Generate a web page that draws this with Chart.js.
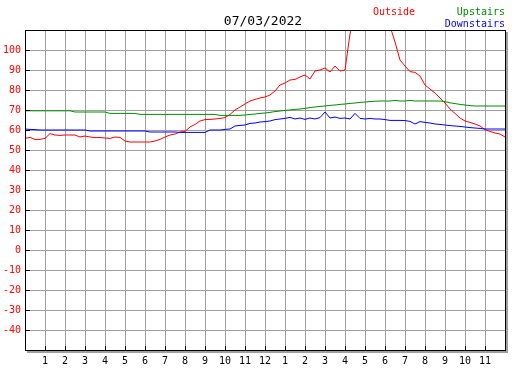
<!DOCTYPE html>
<html>
<head>
<meta charset="utf-8">
<title>07/03/2022</title>
<script src="https://cdn.jsdelivr.net/npm/chart.js@4/dist/chart.umd.min.js"></script>
<style>
  html, body { margin: 0; padding: 0; background: #fff; }
  canvas { display: block; }
</style>
</head>
<body>
<canvas id="grafico" width="527" height="370"></canvas>
<script>
// one reading every 15 minutes, midnight to midnight
const outside = [
  55.8, 56.3, 55.3, 55.3, 55.8, 58.2, 57.5, 57.3,
  57.5, 57.5, 57.5, 56.5, 57, 56.5, 56.2, 56.2,
  56, 55.8, 56.5, 56.3, 54.5, 54, 54, 54,
  54, 54, 54.5, 55.3, 56.5, 57.5, 58, 59,
  59.3, 61.5, 62.8, 64.5, 65.2, 65.3, 65.5, 65.8,
  66.2, 67.8, 70, 71.5, 73, 74.5, 75.3, 76,
  76.5, 77.5, 79.5, 82.5, 83.5, 85, 85.3, 86.5,
  87.5, 85.5, 89.5, 90, 91, 89, 92, 89.5,
  90, 108, 118, 125, 130, 132, 130, 125,
  120, 112, 104, 95, 92, 89.2, 88.8, 87,
  82.5, 80.5, 78.5, 76, 73.5, 70.5, 68.3, 66,
  64.5, 63.8, 63, 62, 60.2, 59.3, 58.5, 58,
  56.5
];
const upstairs = [
  69.6, 69.6, 69.6, 69.6, 69.6, 69.6, 69.6, 69.6,
  69.6, 69.6, 69, 69, 69, 69, 69, 69,
  69, 68.3, 68.3, 68.3, 68.3, 68.3, 68.3, 67.8,
  67.8, 67.8, 67.8, 67.8, 67.8, 67.8, 67.8, 67.8,
  67.8, 67.8, 67.8, 67.8, 67.8, 67.8, 67.8, 67.3,
  67.3, 67.3, 67.3, 67.3, 67.5, 67.8, 68, 68.3,
  68.5, 68.8, 69.2, 69.5, 69.8, 70, 70.3, 70.5,
  70.8, 71.2, 71.5, 71.8, 72, 72.3, 72.5, 72.8,
  73, 73.3, 73.5, 73.8, 74, 74.2, 74.4, 74.5,
  74.5, 74.5, 74.8, 74.5, 74.5, 74.8, 74.5, 74.5,
  74.5, 74.5, 74.5, 74.5, 74.2, 73.6, 73.2, 72.8,
  72.5, 72.2, 72, 72, 72, 72, 72, 72,
  72
];
const downstairs = [
  60.5, 60.3, 60.2, 60, 60, 60, 60, 60,
  60, 60, 60, 60, 60, 59.5, 59.5, 59.5,
  59.5, 59.5, 59.5, 59.5, 59.5, 59.5, 59.5, 59.5,
  59.5, 59, 59, 59, 59, 59, 59, 58.8,
  58.8, 58.8, 58.8, 58.8, 58.8, 60, 60, 60,
  60.3, 60.5, 62, 62.3, 62.5, 63.3, 63.5, 64,
  64.2, 64.5, 65.2, 65.5, 65.8, 66.3, 65.5, 66,
  65.3, 66, 65.5, 66.2, 69, 66, 66.5, 65.8,
  66, 65.5, 68.3, 65.8, 65.5, 65.8, 65.5, 65.5,
  65.2, 64.8, 64.8, 64.8, 64.7, 64.3, 63, 64.2,
  63.8, 63.5, 63, 62.8, 62.5, 62.2, 62, 61.8,
  61.5, 61.2, 61, 60.8, 60.5, 60.5, 60.5, 60.5,
  60.5
];
const hourLabels = ['', '1', '2', '3', '4', '5', '6', '7', '8', '9', '10', '11', '12',
  '1', '2', '3', '4', '5', '6', '7', '8', '9', '10', '11', ''];
const yMin = -50, yMax = 110;
const titulo = '07/03/2022';

const fonte = "'DejaVu Sans Mono', 'Liberation Mono', monospace";
const horas = outside.map((_, i) => i / 4);
const pontos = serie => serie.map((v, i) => ({ x: horas[i], y: v }));

// fundo, sombra, moldura, marcas e textos
const moldura = {
  id: 'moldura',
  beforeDraw(chart) {
    const { ctx, chartArea: a } = chart;
    ctx.save();
    ctx.fillStyle = '#fff';
    ctx.fillRect(0, 0, chart.width, chart.height);
    ctx.fillStyle = '#a0a0a0';
    ctx.fillRect(a.left + 2, a.top + 2, a.right - a.left + 1, a.bottom - a.top + 1);
    ctx.fillStyle = '#fff';
    ctx.fillRect(a.left, a.top, a.right - a.left, a.bottom - a.top);
    ctx.restore();
  },
  afterDatasetsDraw(chart) {
    const { ctx, chartArea: a, scales } = chart;
    ctx.save();
    ctx.strokeStyle = '#000';
    ctx.lineWidth = 1;
    ctx.strokeRect(a.left + 0.5, a.top + 0.5, a.right - a.left, a.bottom - a.top);
    ctx.beginPath();
    for (let v = yMin + 10; v < yMax; v += 10) {
      const y = Math.round(scales.y.getPixelForValue(v)) + 0.5;
      ctx.moveTo(a.left, y);
      ctx.lineTo(a.left + 5, y);
    }
    for (let h = 1; h < 24; h++) {
      const x = Math.round(scales.x.getPixelForValue(h)) + 0.5;
      ctx.moveTo(x, a.bottom - 4);
      ctx.lineTo(x, a.bottom);
    }
    ctx.stroke();
    ctx.restore();
  },
  afterDraw(chart) {
    const { ctx } = chart;
    ctx.save();
    ctx.textBaseline = 'alphabetic';
    ctx.font = '13px ' + fonte;
    ctx.fillStyle = '#000';
    ctx.textAlign = 'center';
    ctx.fillText(titulo, 263, 25);
    ctx.font = '10px ' + fonte;
    ctx.textAlign = 'left';
    ctx.fillStyle = '#ff0000';
    ctx.fillText('Outside', 373, 15);
    ctx.textAlign = 'right';
    ctx.fillStyle = '#008c00';
    ctx.fillText('Upstairs', 505, 15);
    ctx.fillStyle = '#0000ff';
    ctx.fillText('Downstairs', 505, 27);
    ctx.restore();
  }
};

const linha = (label, serie, cor) => ({
  label,
  data: pontos(serie),
  borderColor: cor,
  borderWidth: 1,
  pointRadius: 0,
  tension: 0,
  fill: false
});

new Chart(document.getElementById('grafico'), {
  type: 'line',
  data: {
    datasets: [
      linha('Upstairs', upstairs, '#008c00'),
      linha('Downstairs', downstairs, '#0000ff'),
      linha('Outside', outside, '#ff0000')
    ]
  },
  options: {
    responsive: false,
    animation: false,
    layout: { padding: { top: 30, right: 22, left: 0, bottom: 0 } },
    plugins: { legend: { display: false }, tooltip: { enabled: false } },
    scales: {
      x: {
        type: 'linear',
        min: 0,
        max: 24,
        afterFit: s => { s.height = 20; },
        afterBuildTicks: s => { s.ticks = hourLabels.map((_, h) => ({ value: h })); },
        border: { display: false },
        grid: { color: '#a0a0a0', lineWidth: 1, drawTicks: false },
        ticks: {
          autoSkip: false,
          maxRotation: 0,
          padding: 5,
          color: '#000',
          font: { family: fonte, size: 10 },
          callback: v => hourLabels[v]
        }
      },
      y: {
        min: yMin,
        max: yMax,
        afterFit: s => { s.width = 25; },
        border: { display: false },
        grid: { color: '#a0a0a0', lineWidth: 1, drawTicks: false },
        ticks: {
          stepSize: 10,
          padding: 4,
          color: '#ff0000',
          font: { family: fonte, size: 10 },
          callback: v => (v <= yMin || v >= yMax) ? '' : v
        }
      }
    }
  },
  plugins: [moldura]
});
</script>
</body>
</html>
